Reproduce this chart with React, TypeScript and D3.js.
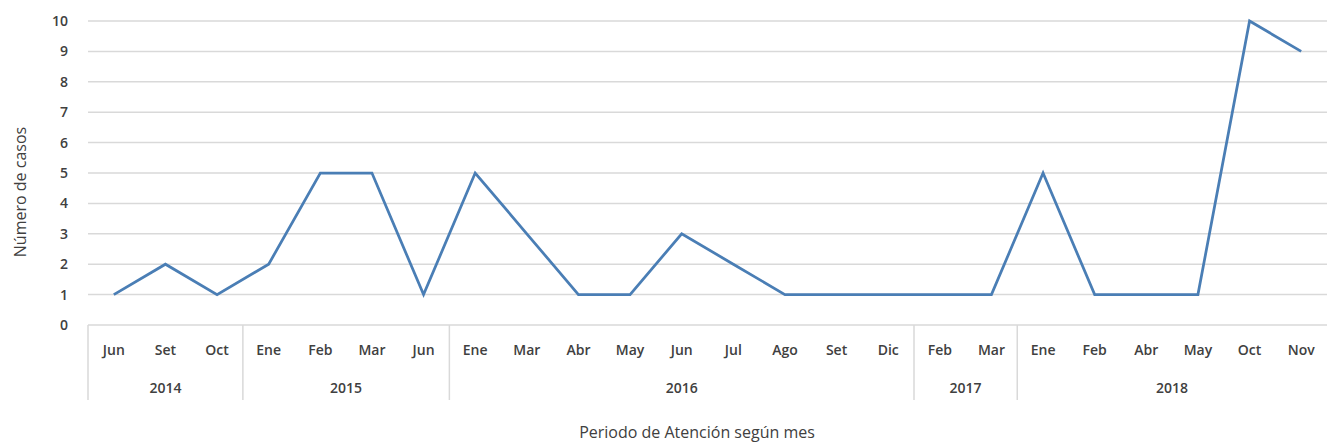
import React, { useEffect, useRef } from 'react';
import * as d3 from 'd3';

// months shown on the axis, with their year group
const months = ['Jun', 'Set', 'Oct', 'Ene', 'Feb', 'Mar', 'Jun', 'Ene', 'Mar', 'Abr', 'May', 'Jun', 'Jul', 'Ago', 'Set', 'Dic', 'Feb', 'Mar', 'Ene', 'Feb', 'Abr', 'May', 'Oct', 'Nov'];
const years = ['2014', '2015', '2016', '2017', '2018'];
const monthsPerYear = [3, 4, 9, 2, 6];
const casos = [1, 2, 1, 2, 5, 5, 1, 5, 3, 1, 1, 3, 2, 1, 1, 1, 1, 1, 5, 1, 1, 1, 10, 9];
const yTicks = [0, 1, 2, 3, 4, 5, 6, 7, 8, 9, 10];

const App = () => {
  const ref = useRef<SVGSVGElement>(null);

  const W = 1327;
  const H = 445;
  const margin = { top: 21, right: 0, bottom: 120, left: 88 };

  useEffect(() => {
    if (!ref.current) return;
    const svg = d3.select(ref.current);
    svg.selectAll('*').remove();

    const idx = months.map((_, i) => i);
    const x = d3.scaleBand<number>()
      .domain(idx)
      .range([margin.left, W - margin.right]);
    const y = d3.scaleLinear()
      .domain([0, 10])
      .range([H - margin.bottom, margin.top]);

    const font = "'Open Sans', 'Liberation Sans', sans-serif";
    const y0 = y(0);

    // gridlines
    svg.append('g')
      .selectAll('line')
      .data(yTicks)
      .enter().append('line')
      .attr('x1', margin.left)
      .attr('x2', W - margin.right)
      .attr('y1', d => y(d))
      .attr('y2', d => y(d))
      .attr('stroke', '#d9d9d9')
      .attr('stroke-width', 1.5);

    // y tick labels
    svg.append('g')
      .selectAll('text')
      .data(yTicks)
      .enter().append('text')
      .attr('x', 68)
      .attr('y', d => y(d))
      .attr('dy', '0.35em')
      .attr('text-anchor', 'end')
      .attr('font-family', font)
      .attr('font-size', 14)
      .attr('font-weight', 600)
      .attr('fill', '#404040')
      .text(d => d);

    // month labels
    svg.append('g')
      .selectAll('text')
      .data(idx)
      .enter().append('text')
      .attr('x', d => (x(d) as number) + x.bandwidth() / 2)
      .attr('y', 350)
      .attr('dy', '0.35em')
      .attr('text-anchor', 'middle')
      .attr('font-family', font)
      .attr('font-size', 14)
      .attr('font-weight', 600)
      .attr('fill', '#404040')
      .text(d => months[d]);

    // year groups
    const starts = monthsPerYear.map((_, i) => d3.sum(monthsPerYear.slice(0, i)));
    const bounds = starts.map(s => x(s) as number);
    svg.append('g')
      .selectAll('line')
      .data(bounds)
      .enter().append('line')
      .attr('x1', d => d)
      .attr('x2', d => d)
      .attr('y1', y0)
      .attr('y2', 400)
      .attr('stroke', '#d9d9d9')
      .attr('stroke-width', 1.5);

    svg.append('g')
      .selectAll('text')
      .data(years)
      .enter().append('text')
      .attr('x', (d, i) => {
        const a = x(starts[i]) as number;
        const b = (x(starts[i] + monthsPerYear[i] - 1) as number) + x.bandwidth();
        return (a + b) / 2;
      })
      .attr('y', 388)
      .attr('dy', '0.35em')
      .attr('text-anchor', 'middle')
      .attr('font-family', font)
      .attr('font-size', 14)
      .attr('font-weight', 600)
      .attr('fill', '#404040')
      .text(d => d);

    // line
    const line = d3.line<number>()
      .x((d, i) => (x(i) as number) + x.bandwidth() / 2)
      .y(d => y(d));
    svg.append('path')
      .datum(casos)
      .attr('d', line)
      .attr('fill', 'none')
      .attr('stroke', '#4a7eb5')
      .attr('stroke-width', 2.75)
      .attr('stroke-linejoin', 'miter');

    // axis titles
    svg.append('text')
      .attr('x', 697)
      .attr('y', 432)
      .attr('dy', '0.35em')
      .attr('text-anchor', 'middle')
      .attr('font-family', font)
      .attr('font-size', 16)
      .attr('fill', '#404040')
      .text('Periodo de Atención según mes');

    svg.append('text')
      .attr('transform', `translate(20, 192) rotate(-90)`)
      .attr('dy', '0.35em')
      .attr('text-anchor', 'middle')
      .attr('font-family', font)
      .attr('font-size', 16)
      .attr('fill', '#404040')
      .text('Número de casos');
  }, []);

  return (
    <svg ref={ref} width={W} height={H} style={{ position: 'absolute', left: 0, top: 0, background: '#fff' }} />
  );
};

export default App;
